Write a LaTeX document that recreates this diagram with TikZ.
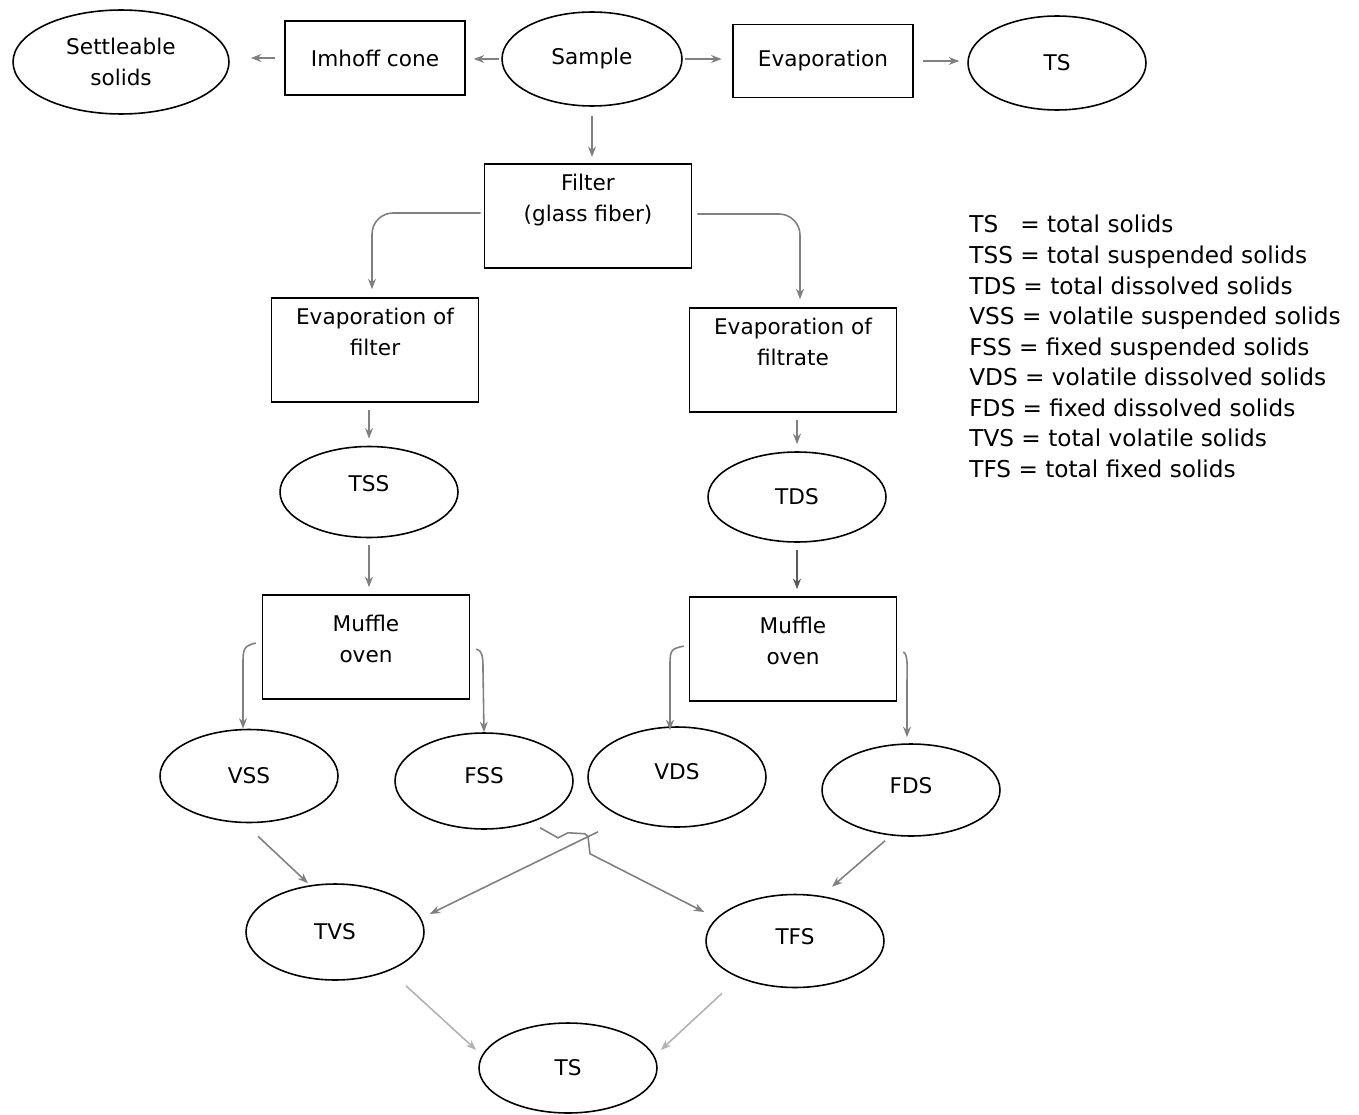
\documentclass[tikz,border=0pt]{standalone}
\usepackage{fontspec}
\setmainfont{DejaVu Sans}
\usetikzlibrary{arrows.meta, positioning, shapes.geometric, calc}

\begin{document}
\begin{tikzpicture}[
  x=0.02cm, y=0.02cm,
  font=\fontsize{12.3pt}{17.6pt}\selectfont,
  ell/.style={draw, ellipse, line width=0.9pt, minimum width=3.56cm, minimum height=1.86cm, inner sep=1pt, align=center},
  box/.style={draw, line width=0.9pt, minimum width=4.14cm, minimum height=2.08cm, align=center},
  sbox/.style={box, minimum width=3.6cm, minimum height=1.48cm},
  arrow/.style={-{Stealth[length=6pt,width=4.5pt]}, line width=0.9pt, draw=black!50, shorten >=4pt, shorten <=4pt},
  faint/.style={arrow, draw=black!30}
]
\useasboundingbox (0,0) rectangle (1359,-1115);

% top row
\node[ell, minimum width=4.32cm, minimum height=2.08cm] (settle) at (121,-62) {Settleable\\solids};
\node[sbox] (imhoff) at (375,-58) {Imhoff cone};
\node[ell, minimum width=3.6cm, minimum height=1.88cm] (sample) at (592,-59) {Sample};
\node[sbox, minimum height=1.46cm] (evap) at (823,-61) {Evaporation};
\node[ell, minimum height=1.88cm] (tstop) at (1057,-63) {TS};

% filter branch
\node[box, text depth=0.74cm] (filter) at (588,-216) {Filter\\(glass fiber)};
\node[box, text depth=0.74cm] (evapfilter) at (375,-350) {Evaporation of\\filter};
\node[box, text depth=0.72cm] (evapfiltrate) at (793,-360) {Evaporation of\\filtrate};
\node[ell, minimum height=1.82cm, text depth=0.36cm] (tss) at (369,-492) {TSS};
\node[ell, minimum height=1.8cm] (tds) at (797,-497) {TDS};
\node[box, text depth=0.32cm] (muffleL) at (366,-647) {Muffle\\oven};
\node[box, text depth=0.32cm] (muffleR) at (793,-649) {Muffle\\oven};

% fractions
\node[ell] (vss) at (249,-776) {VSS};
\node[ell, minimum height=1.92cm, text depth=0.24cm] (fss) at (484,-781) {FSS};
\node[ell, minimum height=2cm, text depth=0.24cm] (vds) at (677,-777) {VDS};
\node[ell, minimum height=1.84cm, text depth=0.2cm] (fds) at (911,-790) {FDS};
\node[ell, minimum height=1.92cm] (tvs) at (335,-932) {TVS};
\node[ell, text depth=0.2cm] (tfs) at (795,-941) {TFS};
\node[ell, minimum height=1.8cm] (tsbot) at (568,-1068) {TS};

% legend
\node[anchor=north west, inner sep=0pt, align=left, font=\fontsize{13.2pt}{17.4pt}\selectfont] (legend) at (969,-215)
  {TS\phantom{S} = total solids\\
   TSS = total suspended solids\\
   TDS = total dissolved solids\\
   VSS = volatile suspended solids\\
   FSS = fixed suspended solids\\
   VDS = volatile dissolved solids\\
   FDS = fixed dissolved solids\\
   TVS = total volatile solids\\
   TFS = total fixed solids};

% top arrows
\draw[arrow, shorten <=1pt, shorten >=4.5pt] (sample.west) -- (sample.west -| imhoff.east);
\draw[arrow, shorten <=5.5pt, shorten >=12pt] (imhoff.west) -- (imhoff.west -| settle.east);
\draw[arrow, shorten <=1pt, shorten >=6pt] (sample.east) -- (sample.east -| evap.west);
\draw[arrow, shorten <=5pt, shorten >=4.5pt] (evap.east) -- (evap.east -| tstop.west);
\draw[arrow, shorten <=5pt, shorten >=3.5pt] (sample.south) -- (sample.south |- filter.north);

% filter split
\draw[arrow, rounded corners=12pt, shorten <=0pt, shorten >=4.5pt] ($(filter.west)+(-3,3)$) -| ($(evapfilter.north)+(-3,0)$);
\draw[arrow, rounded corners=12pt, shorten <=0pt, shorten >=4.5pt] ($(filter.east)+(5,2)$) -| ($(evapfiltrate.north)+(7,0)$);
\draw[arrow] (evapfilter.south -| tss) -- (tss);
\draw[arrow] (evapfiltrate.south -| tds) -- (tds);
\draw[arrow] (tss.south) -- (tss.south |- muffleL.north);
\draw[arrow, draw=black!65] (tds.south) -- (tds.south |- muffleR.north);

% muffle oven outputs
\draw[arrow, shorten <=0pt, shorten >=0pt] ($(muffleL.west)+(-6,4)$) .. controls +(-12,-3) and +(0,15) .. ($(vss.north)+(-6,65)$) -- ($(vss.north)+(-6,0)$);
\draw[arrow, shorten <=0pt, shorten >=0pt] ($(muffleL.east)+(6,-2)$) .. controls +(6,-2) and +(0,15) .. ($(fss.north)+(-1,62)$) -- (fss.north);
\draw[arrow, shorten <=0pt, shorten >=0pt] ($(muffleR.west)+(-5,3)$) .. controls +(-12,-3) and +(0,15) .. ($(vds.north)+(-7,62)$) -- ($(vds.north)+(-7,-4)$);
\draw[arrow, shorten <=0pt, shorten >=0pt] ($(muffleR.east)+(6,-3)$) .. controls +(5,-2) and +(0,15) .. ($(fds.north)+(-4,60)$) -- ($(fds.north)+(-4,6)$);

% sums
\draw[arrow, shorten <=0pt, shorten >=0pt] ($(vss.south)+(9,-13)$) -- ($(tvs.north)+(-27,0)$);
\draw[arrow, shorten <=0pt, shorten >=0pt] ($(fss.south)+(56,2)$) -- ++(18,-10) -- ++(10,5) -- ++(17,-1) -- ++(3,-3) -- ++(2,-17) -- ($(tfs.west)+(-1,29)$);
\draw[arrow, shorten <=0pt, shorten >=0pt] ($(vds.south)+(-79,-4)$) -- ($(tvs.east)+(5,18)$);
\draw[arrow, shorten <=0pt, shorten >=0pt] ($(fds.south)+(-26,-4)$) -- ($(tfs.north)+(37,7)$);
\draw[faint, shorten <=0pt, shorten >=0pt] ($(tvs.south)+(71,-5)$) -- ($(tsbot.west)+(-2,18)$);
\draw[faint, shorten <=0pt, shorten >=0pt] ($(tfs.south)+(-73,-5)$) -- ($(tsbot.east)+(3,18)$);
\end{tikzpicture}
\end{document}
